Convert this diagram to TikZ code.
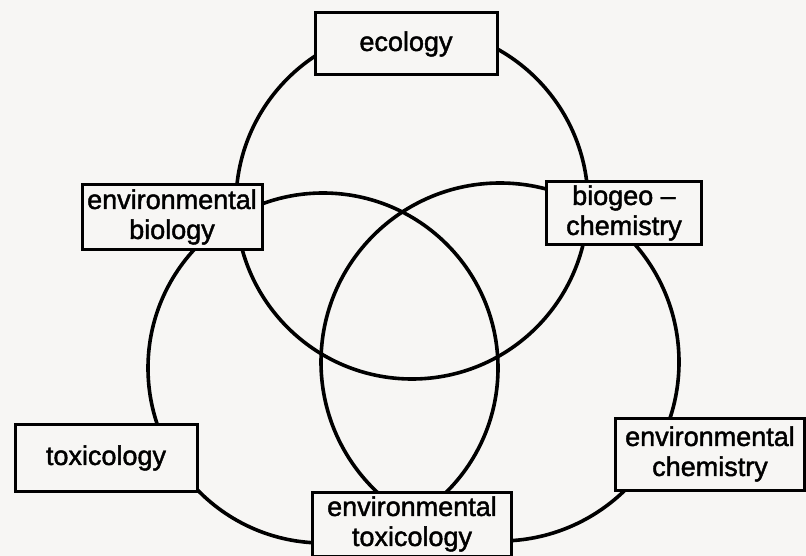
\documentclass[tikz,border=0pt]{standalone}
\usepackage{fontspec}
\setmainfont{Liberation Sans}
\newfontfamily\labelfont{Liberation Sans}[Ligatures=TeX,FakeBold=1.6]
\usepackage{xcolor}
\definecolor{paper}{RGB}{247,246,244}

\begin{document}
\begin{tikzpicture}[
    x=1pt, y=-1pt,
    field/.style={rectangle,draw,line width=3pt,fill=paper,inner sep=0pt,align=center,
      font=\labelfont\fontsize{27}{30}\selectfont},
    ring/.style={line width=3.6pt}
  ]
  \useasboundingbox[fill=paper] (0,0) rectangle (806,556);
  % three overlapping fields
  \coordinate (top) at (412,203);
  \coordinate (left) at (323,368);
  \coordinate (right) at (500,362);
  \draw[ring] (top) circle (176pt);
  \draw[ring] (left) circle (175pt);
  \draw[ring] (right) circle (179pt);
  % labels sitting on the rings
  \node[field,minimum width=182pt,minimum height=62pt] (ecology) at (406,44) {ecology};
  \node[field,minimum width=180pt,minimum height=65pt] (envbio) at (172,217) {environmental\\biology};
  \node[field,minimum width=155pt,minimum height=63pt] (biogeo) at (624,213) {biogeo --\\chemistry};
  \node[field,minimum width=182pt,minimum height=67pt] (toxic) at (106,458) {toxicology};
  \node[field,minimum width=199pt,minimum height=64pt] (envtox) at (412,524) {environmental\\toxicology};
  \node[field,minimum width=189pt,minimum height=72pt] (envchem) at (710,454) {environmental\\chemistry};
\end{tikzpicture}
\end{document}
